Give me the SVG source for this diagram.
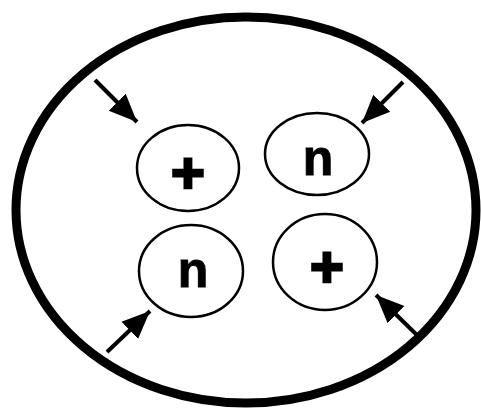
<svg xmlns="http://www.w3.org/2000/svg" width="481" height="409" viewBox="0 0 481 409">
<style>
.node{fill:none;stroke:#000;stroke-width:2.5}
.lbl{font-family:"Liberation Sans",Arial,sans-serif;font-weight:bold;fill:#000;text-anchor:middle}
.plus{font-size:58px;stroke:#000;stroke-width:2.5}
.n{font-size:50px;stroke:#000;stroke-width:1}
.arr{stroke:#000;stroke-width:4;fill:none}
</style>
<defs>
<marker id="ah" markerUnits="userSpaceOnUse" markerWidth="30" markerHeight="30" viewBox="0 0 30 30" refX="28" refY="15" orient="auto">
<path d="M0,3 L28,15 L0,27 Z" fill="#000"/>
</marker>
</defs>
<rect width="481" height="409" fill="#fff"/>
<g id="outer">
<ellipse cx="246" cy="210" rx="230" ry="193" fill="none" stroke="#000" stroke-width="9"/>
</g>
<g id="node-tl">
<ellipse class="node" cx="188" cy="168" rx="51" ry="43"/>
<text class="lbl plus" x="188" y="193">+</text>
</g>
<g id="node-tr">
<ellipse class="node" cx="317" cy="154" rx="52" ry="41"/>
<text class="lbl n" x="318" y="175">n</text>
</g>
<g id="node-bl">
<ellipse class="node" cx="191" cy="271" rx="52" ry="46"/>
<text class="lbl n" x="193" y="287">n</text>
</g>
<g id="node-br">
<ellipse class="node" cx="325" cy="262" rx="52" ry="48"/>
<text class="lbl plus" x="327" y="287">+</text>
</g>
<g id="connectors">
<line class="arr" x1="95" y1="80" x2="137" y2="122" marker-end="url(#ah)"/>
<line class="arr" x1="403" y1="82" x2="362" y2="123" marker-end="url(#ah)"/>
<line class="arr" x1="107" y1="352" x2="150" y2="311" marker-end="url(#ah)"/>
<line class="arr" x1="420" y1="338" x2="376" y2="295" marker-end="url(#ah)"/>
</g>
</svg>
